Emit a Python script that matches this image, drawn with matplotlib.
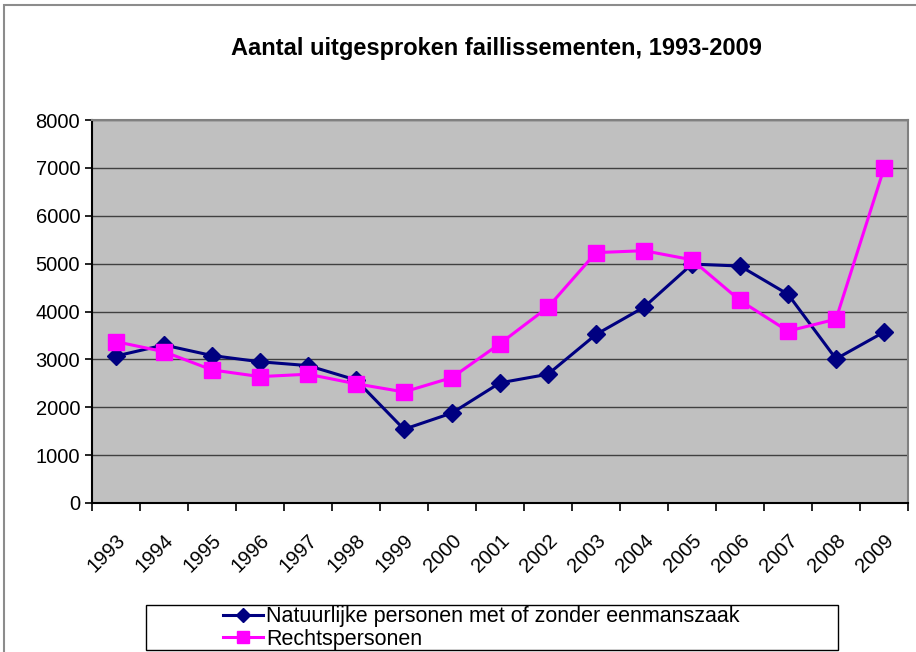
import matplotlib.pyplot as plt
from matplotlib.patches import Rectangle

# data
years = ["1993", "1994", "1995", "1996", "1997", "1998", "1999", "2000", "2001",
         "2002", "2003", "2004", "2005", "2006", "2007", "2008", "2009"]
natuurlijk = [3070, 3300, 3080, 2950, 2870, 2570, 1540, 1880, 2510,
              2690, 3520, 4090, 4990, 4950, 4360, 3010, 3570]
rechts = [3370, 3160, 2780, 2640, 2690, 2490, 2320, 2620, 3330,
          4090, 5230, 5270, 5080, 4230, 3590, 3840, 6990]

plt.rcParams["font.family"] = ["Liberation Sans", "DejaVu Sans"]

fig = plt.figure(figsize=(9.16, 6.52), dpi=100)
fig.patch.set_facecolor("white")

# outer chart border
fig.add_artist(Rectangle((4 / 916, -0.1), 1.2, 1 - 5 / 652 + 0.1, transform=fig.transFigure,
                         fill=False, edgecolor="#8c8c8c", linewidth=1.5))

ax = fig.add_axes([92 / 916, 1 - 503 / 652, 816 / 916, 383 / 652])
ax.set_facecolor("#c0c0c0")

x = list(range(len(years)))
ax.plot(x, natuurlijk, color="#000080", linewidth=2.2, marker="D", markersize=9,
        label="Natuurlijke personen met of zonder eenmanszaak", zorder=3)
ax.plot(x, rechts, color="#ff00ff", linewidth=2.2, marker="s", markersize=11,
        label="Rechtspersonen", zorder=4)

ax.set_xlim(-0.5, len(years) - 0.5)
ax.set_ylim(0, 8000)
ax.set_yticks(range(0, 8001, 1000))
ax.yaxis.grid(True, color="#404040", linewidth=1.0)
ax.set_axisbelow(True)

# ticks between categories, labels at category centres
ax.set_xticks([i - 0.5 for i in range(len(years) + 1)])
ax.set_xticklabels([])
ax.set_xticks(x, minor=True)
ax.set_xticklabels(years, minor=True, rotation=45, ha="right", va="top",
                   rotation_mode="anchor", fontsize=14.5)
ax.tick_params(axis="x", which="major", direction="out", length=6, width=1.2, color="black")
ax.tick_params(axis="x", which="minor", length=0, pad=20)
ax.tick_params(axis="y", direction="out", length=5, width=1.2, labelsize=14.5, color="black")

for side in ("left", "bottom"):
    ax.spines[side].set_color("black")
    ax.spines[side].set_linewidth(1.5)
for side in ("right", "top"):
    ax.spines[side].set_color("#808080")
    ax.spines[side].set_linewidth(1.5)

fig.text(496 / 916, 1 - 48 / 652, "Aantal uitgesproken faillissementen, 1993-2009",
         ha="center", va="center", fontsize=17, fontweight="bold")

# legend box and centred legend
fig.add_artist(Rectangle((146 / 916, 1 - 650 / 652), 692 / 916, 45 / 652,
                         transform=fig.transFigure, fill=False,
                         edgecolor="black", linewidth=1.0))
leg = fig.legend(loc="center", bbox_to_anchor=(481 / 916, 1 - 628 / 652),
                 fontsize=15.5, frameon=False, handlelength=1.85, handletextpad=0.15,
                 borderpad=0.0, labelspacing=0.05, markerscale=0.8)

fig.savefig("out.png", dpi=100)
